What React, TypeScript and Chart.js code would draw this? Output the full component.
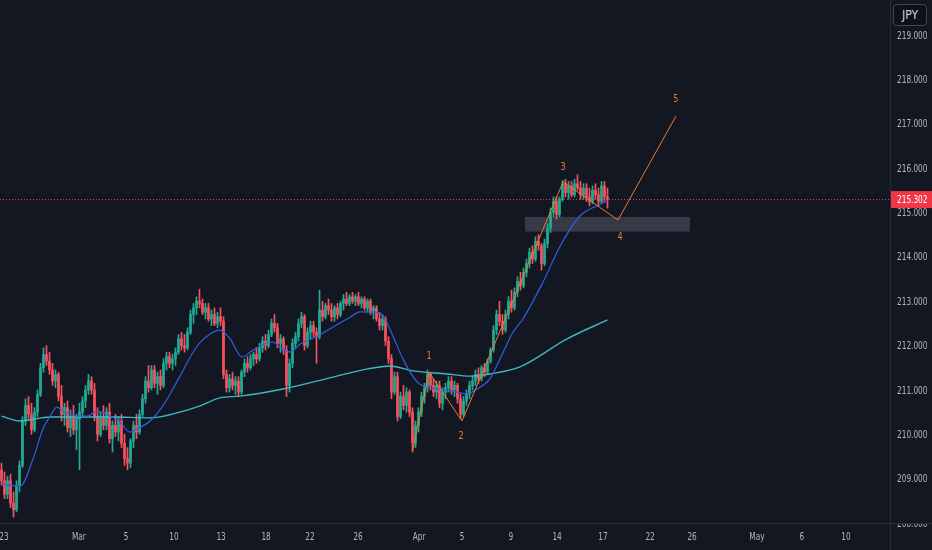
import { useEffect, useRef } from "react";
import { Chart, registerables, type Plugin } from "chart.js";

Chart.register(...registerables);

// 4h bars, index 0 = first visible bar: [open, high, low, close]
const CANDLES: [number, number, number, number][] = [
  [209.2, 209.35, 208.85, 208.95], [208.95, 209.15, 208.55, 208.65], [208.65, 209.05, 208.55, 208.95],
  [208.95, 209.1, 208.35, 208.45], [208.45, 208.7, 208.13, 208.3], [208.3, 208.95, 208.25, 208.85],
  [208.85, 209.4, 208.7, 209.3], [209.3, 210.4, 209.25, 210.3], [210.3, 210.8, 210.2, 210.65],
  [210.65, 210.85, 210.35, 210.45], [210.45, 210.7, 210.0, 210.1], [210.1, 210.6, 210.05, 210.5],
  [210.5, 211.0, 210.4, 210.9], [210.9, 211.6, 210.85, 211.5], [211.5, 211.95, 211.4, 211.8],
  [211.8, 212.0, 211.55, 211.65], [211.65, 211.85, 211.35, 211.45], [211.45, 211.6, 211.1, 211.2],
  [211.2, 211.45, 211.05, 211.35], [211.35, 211.4, 210.75, 210.85], [210.85, 211.1, 210.3, 210.45],
  [210.45, 210.7, 210.2, 210.6], [210.6, 210.75, 210.05, 210.15], [210.15, 210.55, 209.95, 210.4],
  [210.4, 210.65, 210.0, 210.1], [210.1, 210.45, 209.65, 210.35], [210.35, 210.7, 209.2, 210.5],
  [210.5, 210.85, 210.4, 210.75], [210.75, 211.1, 210.6, 211.0], [211.0, 211.35, 210.9, 211.2],
  [211.2, 211.3, 210.9, 211.0], [211.0, 211.15, 210.3, 210.4], [210.4, 210.6, 209.85, 210.0],
  [210.0, 210.5, 209.95, 210.4], [210.4, 210.65, 210.1, 210.2], [210.2, 210.6, 210.1, 210.5],
  [210.5, 210.7, 209.8, 209.9], [209.9, 210.3, 209.6, 210.2], [210.2, 210.45, 209.95, 210.05],
  [210.05, 210.4, 209.85, 210.3], [210.3, 210.45, 209.7, 209.8], [209.8, 210.0, 209.3, 209.45],
  [209.45, 209.7, 209.2, 209.35], [209.35, 209.9, 209.25, 209.85], [209.85, 210.3, 209.7, 210.2],
  [210.2, 210.45, 209.9, 210.05], [210.05, 210.55, 210.0, 210.45], [210.45, 210.9, 210.4, 210.8],
  [210.8, 211.3, 210.7, 211.2], [211.2, 211.55, 210.95, 211.05], [211.05, 211.55, 211.0, 211.45],
  [211.45, 211.55, 211.05, 211.15], [211.15, 211.4, 210.9, 211.3], [211.3, 211.45, 211.0, 211.1],
  [211.1, 211.7, 211.05, 211.6], [211.6, 211.85, 211.45, 211.75], [211.75, 211.85, 211.5, 211.6],
  [211.6, 211.8, 211.45, 211.7], [211.7, 211.95, 211.55, 211.85], [211.85, 212.25, 211.8, 212.15],
  [212.15, 212.3, 211.9, 212.0], [212.0, 212.25, 211.85, 211.95], [211.95, 212.4, 211.9, 212.3],
  [212.3, 212.8, 212.25, 212.7], [212.7, 212.95, 212.5, 212.85], [212.85, 213.1, 212.7, 213.0],
  [213.0, 213.27, 212.85, 212.95], [212.95, 213.05, 212.7, 212.75], [212.75, 212.95, 212.6, 212.85],
  [212.85, 212.95, 212.55, 212.6], [212.6, 212.8, 212.45, 212.7], [212.7, 212.85, 212.45, 212.5],
  [212.5, 212.75, 212.4, 212.65], [212.65, 212.85, 212.45, 212.55], [212.55, 212.65, 211.25, 211.35],
  [211.35, 211.45, 210.95, 211.05], [211.05, 211.35, 210.95, 211.25], [211.25, 211.4, 211.0, 211.1],
  [211.1, 211.3, 210.9, 211.2], [211.2, 211.3, 210.85, 210.95], [210.95, 211.45, 210.9, 211.4],
  [211.4, 211.7, 211.3, 211.6], [211.6, 211.75, 211.4, 211.5], [211.5, 211.8, 211.45, 211.7],
  [211.7, 211.85, 211.55, 211.8], [211.8, 211.95, 211.6, 211.7], [211.7, 212.05, 211.65, 211.95],
  [211.95, 212.2, 211.85, 212.1], [212.1, 212.25, 211.9, 212.0], [212.0, 212.35, 211.95, 212.25],
  [212.25, 212.6, 212.2, 212.5], [212.5, 212.7, 212.3, 212.4], [212.4, 212.5, 211.95, 212.05],
  [212.05, 212.25, 211.85, 212.15], [212.15, 212.2, 211.8, 211.9], [211.9, 212.0, 210.85, 211.1],
  [211.1, 211.7, 210.95, 211.6], [211.6, 212.15, 211.5, 212.05], [212.05, 212.3, 211.95, 212.2],
  [212.2, 212.6, 212.1, 212.5], [212.5, 212.75, 212.4, 212.65], [212.65, 212.7, 211.9, 212.0],
  [212.0, 212.4, 211.95, 212.3], [212.3, 212.55, 212.15, 212.45], [212.45, 212.55, 212.2, 212.3],
  [212.3, 212.4, 211.6, 212.2], [212.2, 213.25, 212.15, 212.8], [212.8, 213.0, 212.55, 212.65],
  [212.65, 212.95, 212.6, 212.9], [212.9, 213.05, 212.7, 212.8], [212.8, 212.95, 212.55, 212.65],
  [212.65, 212.9, 212.55, 212.85], [212.85, 212.95, 212.6, 212.7], [212.7, 213.0, 212.65, 212.95],
  [212.95, 213.15, 212.8, 213.05], [213.05, 213.2, 212.9, 212.95], [212.95, 213.15, 212.9, 213.1],
  [213.1, 213.2, 212.95, 213.0], [213.0, 213.15, 212.9, 213.1], [213.1, 213.2, 212.9, 212.95],
  [212.95, 213.1, 212.85, 213.05], [213.05, 213.1, 212.8, 212.85], [212.85, 213.05, 212.75, 213.0],
  [213.0, 213.05, 212.7, 212.75], [212.75, 212.9, 212.6, 212.85], [212.85, 212.9, 212.55, 212.6],
  [212.6, 212.75, 212.35, 212.45], [212.45, 212.7, 212.35, 212.6], [212.6, 212.65, 212.0, 212.1],
  [212.1, 212.2, 211.6, 211.7], [211.7, 211.8, 210.8, 210.95], [210.95, 211.4, 210.9, 211.3],
  [211.3, 211.4, 210.3, 210.4], [210.4, 210.95, 210.35, 210.85], [210.85, 211.1, 210.55, 210.65],
  [210.65, 211.05, 210.5, 210.95], [210.95, 211.0, 210.4, 210.5], [210.5, 210.6, 209.6, 209.8],
  [209.8, 210.3, 209.7, 210.2], [210.2, 210.6, 210.05, 210.5], [210.5, 210.95, 210.4, 210.85],
  [210.85, 211.15, 210.7, 211.05], [211.05, 211.45, 210.95, 211.35], [211.35, 211.4, 211.0, 211.1],
  [211.1, 211.25, 210.85, 210.95], [210.95, 211.2, 210.8, 211.1], [211.1, 211.2, 210.6, 210.7],
  [210.7, 211.05, 210.55, 210.95], [210.95, 211.15, 210.8, 211.05], [211.05, 211.3, 210.95, 211.2],
  [211.2, 211.3, 210.9, 211.0], [211.0, 211.2, 210.85, 211.1], [211.1, 211.15, 210.7, 210.8],
  [210.8, 210.9, 210.35, 210.45], [210.45, 210.85, 210.4, 210.75], [210.75, 211.0, 210.65, 210.9],
  [210.9, 211.2, 210.8, 211.1], [211.1, 211.3, 211.0, 211.2], [211.2, 211.45, 211.1, 211.35],
  [211.35, 211.5, 211.15, 211.25], [211.25, 211.55, 211.2, 211.5], [211.5, 211.6, 211.3, 211.4],
  [211.4, 211.7, 211.35, 211.65], [211.65, 211.95, 211.6, 211.9], [211.9, 212.45, 211.85, 212.35],
  [212.35, 212.8, 212.25, 212.7], [212.7, 213.0, 212.45, 212.55], [212.55, 212.7, 212.25, 212.35],
  [212.35, 212.8, 212.3, 212.7], [212.7, 213.1, 212.6, 213.0], [213.0, 213.25, 212.75, 212.85],
  [212.85, 213.3, 212.8, 213.2], [213.2, 213.55, 213.1, 213.45], [213.45, 213.65, 213.25, 213.35],
  [213.35, 213.75, 213.3, 213.65], [213.65, 213.95, 213.55, 213.85], [213.85, 214.2, 213.75, 214.1],
  [214.1, 214.25, 213.85, 213.95], [213.95, 214.45, 213.9, 214.35], [214.35, 214.5, 214.15, 214.25],
  [214.25, 214.3, 213.7, 213.85], [213.85, 214.4, 213.8, 214.3], [214.3, 214.75, 214.2, 214.65],
  [214.65, 215.1, 214.55, 215.0], [215.0, 215.35, 214.9, 215.25], [215.25, 215.35, 214.85, 214.95],
  [214.95, 215.35, 214.9, 215.3], [215.3, 215.72, 215.25, 215.65], [215.65, 215.75, 215.35, 215.45],
  [215.45, 215.7, 215.3, 215.6], [215.6, 215.7, 215.35, 215.4], [215.4, 215.75, 215.35, 215.65],
  [215.65, 215.85, 215.5, 215.55], [215.55, 215.7, 215.3, 215.4], [215.4, 215.65, 215.3, 215.55],
  [215.55, 215.65, 215.25, 215.35], [215.35, 215.55, 215.15, 215.25], [215.25, 215.6, 215.2, 215.5],
  [215.5, 215.65, 215.3, 215.4], [215.4, 215.55, 215.15, 215.25], [215.25, 215.7, 215.2, 215.6],
  [215.6, 215.7, 215.25, 215.35], [215.35, 215.55, 215.1, 215.302],
];

// moving averages: [bar index, price]
const FAST_MA: [number, number][] = [
  [0, 208.88], [6.2, 208.83], [10.5, 209.44], [13.8, 210.12], [16.2, 210.41], [18.5, 210.61],
  [20.5, 210.52], [25.2, 210.41], [28.5, 210.41], [31.8, 210.52], [36.2, 210.41], [39.5, 210.28],
  [42.8, 210.05], [45.2, 210.12], [49.5, 210.3], [53.8, 210.64], [59.5, 211.31], [65.2, 211.99],
  [69.5, 212.26], [72.8, 212.35], [76.2, 212.15], [80.2, 211.74], [83.5, 211.88], [90.2, 212.08],
  [93.8, 211.92], [96.2, 211.85], [99.5, 212.03], [105.2, 212.21], [110.5, 212.42], [116.2, 212.64],
  [119.5, 212.76], [123.8, 212.76], [127.2, 212.67], [130.5, 212.21], [133.8, 211.7], [138.5, 211.18],
  [140.5, 211.09], [146.2, 211.02], [151.8, 210.95], [155.2, 210.91], [158.5, 211.02], [162.8, 211.25],
  [166.2, 211.7], [170.5, 212.3], [173.8, 212.6], [180.5, 213.43], [186.2, 214.24], [192.8, 214.92],
  [198.5, 215.15], [202, 215.26],
];
const SLOW_MA: [number, number][] = [
  [0, 210.41], [6.2, 210.3], [16.2, 210.39], [36.2, 210.39], [49.5, 210.37], [59.5, 210.5],
  [66.2, 210.64], [72.8, 210.82], [79.5, 210.86], [93.8, 211.02], [110.5, 211.29], [121.8, 211.47],
  [129.5, 211.54], [137.2, 211.43], [148.5, 211.36], [156.2, 211.31], [162.8, 211.36], [172.8, 211.52],
  [188.5, 212.15], [202, 212.58],
];

// Elliott wave count drawn on the chart
const WAVE: [number, number][] = [
  [137, 209.62], [142.5, 211.4], [153.5, 210.3], [187.2, 215.69], [205.5, 214.83], [224.8, 217.17],
];
const WAVE_LABELS: [string, number, number][] = [
  ["1", 142.5, 211.76], ["2", 153.2, 209.96], ["3", 187.2, 216.02], ["4", 206.2, 214.45], ["5", 224.8, 217.56],
];
const ZONE = { from: 174.5, to: 229.5, low: 214.57, high: 214.9 };
const LAST_PRICE = 215.302;

const TIME_TICKS = [0.8, 25.8, 41.5, 57.5, 73.2, 88.2, 102.8, 118.8, 139.2, 153.5, 169.8, 185.2, 200.5, 216.2, 230.2, 251.8, 266.8, 281.5];
const TIME_LABELS = ["23", "Mar", "5", "10", "13", "18", "22", "26", "Apr", "5", "9", "14", "17", "22", "26", "May", "6", "10"];
const PRICE_TICKS = [208, 209, 210, 211, 212, 213, 214, 215, 216, 217, 218, 219];

const BG = "#131722";
const UP = "#22ab94";
const DOWN = "#f7525f";
const AXIS_LINE = "#2a2e39";
const TEXT = "#b2b5be";
const ORANGE = "#ef7a2e";
const FONT = '"DejaVu Sans Condensed", "DejaVu Sans", sans-serif';
const SQUEEZE = 0.82; // the axis text in the reference is narrower than any installed face

// horizontally squeezed text, anchored at (x, y)
function squeezed(ctx: CanvasRenderingContext2D, text: string, x: number, y: number, align: CanvasTextAlign) {
  ctx.save();
  ctx.translate(x, y);
  ctx.scale(SQUEEZE, 1);
  ctx.textAlign = align;
  ctx.textBaseline = "middle";
  ctx.fillText(text, 0, 0);
  ctx.restore();
}

const overlay: Plugin = {
  id: "overlay",
  beforeDatasetsDraw(chart) {
    const { ctx, chartArea: a, scales } = chart;
    const x = scales.x, y = scales.y;
    ctx.save();
    const x0 = x.getPixelForValue(ZONE.from), x1 = x.getPixelForValue(ZONE.to);
    const y0 = y.getPixelForValue(ZONE.high), y1 = y.getPixelForValue(ZONE.low);
    ctx.fillStyle = "rgba(120,124,138,0.35)";
    ctx.fillRect(x0, y0, x1 - x0, y1 - y0);
    // last price dotted line
    const py = Math.round(y.getPixelForValue(LAST_PRICE)) + 0.5;
    ctx.strokeStyle = "#f23645";
    ctx.lineWidth = 1;
    ctx.setLineDash([1, 2]);
    ctx.beginPath();
    ctx.moveTo(a.left, py);
    ctx.lineTo(a.right, py);
    ctx.stroke();
    ctx.restore();
  },
  afterDatasetsDraw(chart) {
    const { ctx, scales } = chart;
    ctx.save();
    ctx.fillStyle = ORANGE;
    ctx.font = `11px ${FONT}`;
    for (const [t, vx, vy] of WAVE_LABELS) {
      squeezed(ctx, t, scales.x.getPixelForValue(vx), scales.y.getPixelForValue(vy), "center");
    }
    ctx.restore();
  },
  afterDraw(chart) {
    const { ctx, chartArea: a, width, height, scales } = chart;
    ctx.save();
    ctx.font = `10px ${FONT}`;
    ctx.fillStyle = TEXT;
    // price axis labels
    for (const v of PRICE_TICKS) {
      squeezed(ctx, v.toFixed(3), a.right + 7, scales.y.getPixelForValue(v) + 1, "left");
    }
    // time axis labels
    TIME_TICKS.forEach((v, i) => {
      squeezed(ctx, TIME_LABELS[i], scales.x.getPixelForValue(v), a.bottom + 14, "center");
    });
    // the lowest price label sits half under the time axis
    ctx.fillStyle = BG;
    ctx.fillRect(a.right + 1, a.bottom - 6, width - a.right, 6);
    ctx.strokeStyle = AXIS_LINE;
    ctx.lineWidth = 1;
    ctx.beginPath();
    ctx.moveTo(a.right + 0.5, 0);
    ctx.lineTo(a.right + 0.5, height);
    ctx.moveTo(0, a.bottom + 0.5);
    ctx.lineTo(width, a.bottom + 0.5);
    ctx.stroke();
    // last price tag
    const py = scales.y.getPixelForValue(LAST_PRICE);
    ctx.fillStyle = "#f23645";
    ctx.fillRect(a.right + 1, py - 8, width - a.right - 1, 17);
    ctx.fillStyle = "#ffffff";
    squeezed(ctx, LAST_PRICE.toFixed(3), a.right + 7, py + 1, "left");
    ctx.restore();
  },
};

export default function App() {
  const canvasRef = useRef<HTMLCanvasElement>(null);

  useEffect(() => {
    if (!canvasRef.current) return;
    const colors = CANDLES.map((c) => (c[3] >= c[0] ? UP : DOWN));
    const chart = new Chart(canvasRef.current, {
      type: "bar",
      data: {
        datasets: [
          {
            type: "line",
            data: WAVE.map(([x, y]) => ({ x, y })),
            borderColor: ORANGE,
            borderWidth: 1,
            pointRadius: 0,
            order: 0,
          },
          {
            type: "line",
            data: FAST_MA.map(([x, y]) => ({ x, y })),
            borderColor: "#2f5ee8",
            borderWidth: 1.2,
            pointRadius: 0,
            cubicInterpolationMode: "monotone",
            order: 1,
          },
          {
            type: "line",
            data: SLOW_MA.map(([x, y]) => ({ x, y })),
            borderColor: "#3fb8c4",
            borderWidth: 1.4,
            pointRadius: 0,
            cubicInterpolationMode: "monotone",
            order: 1,
          },
          {
            type: "bar",
            data: CANDLES.map((c, i) => ({ x: i, y: [Math.min(c[0], c[3]), Math.max(c[0], c[3])] })) as any,
            backgroundColor: colors,
            barThickness: 2,
            minBarLength: 1,
            grouped: false,
            order: 2,
          },
          {
            type: "bar",
            data: CANDLES.map((c, i) => ({ x: i, y: [c[2], c[1]] })) as any,
            backgroundColor: colors,
            barThickness: 1,
            grouped: false,
            order: 3,
          },
        ],
      },
      options: {
        responsive: true,
        maintainAspectRatio: false,
        animation: false,
        events: [],
        layout: { padding: 0 },
        plugins: { legend: { display: false }, tooltip: { enabled: false } },
        scales: {
          x: {
            type: "linear",
            min: -0.5,
            max: 296.17,
            offset: false,
            grid: { display: false, drawTicks: false },
            border: { display: false },
            ticks: { display: false },
            afterFit: (s) => {
              s.height = 27;
              s.paddingLeft = 0;
              s.paddingRight = 0;
            },
          },
          y: {
            type: "linear",
            position: "right",
            min: 208,
            max: 219.79,
            grid: { display: false, drawTicks: false },
            border: { display: false },
            ticks: { display: false },
            afterFit: (s) => {
              s.width = 42;
              s.paddingTop = 0;
              s.paddingBottom = 0;
            },
          },
        },
      },
      plugins: [overlay],
    });
    return () => chart.destroy();
  }, []);

  return (
    <div style={{ position: "fixed", left: 0, top: 0, width: 932, height: 550, background: BG }}>
      <canvas ref={canvasRef} />
      <div
        style={{
          position: "absolute",
          left: 893,
          top: 4,
          width: 34,
          height: 22,
          boxSizing: "border-box",
          border: "1px solid #434651",
          borderRadius: 4,
          background: "#0f1118",
          color: "#d1d4dc",
          font: `12px ${FONT}`,
          display: "flex",
          alignItems: "center",
          justifyContent: "center",
        }}
      >
        JPY
      </div>
    </div>
  );
}
